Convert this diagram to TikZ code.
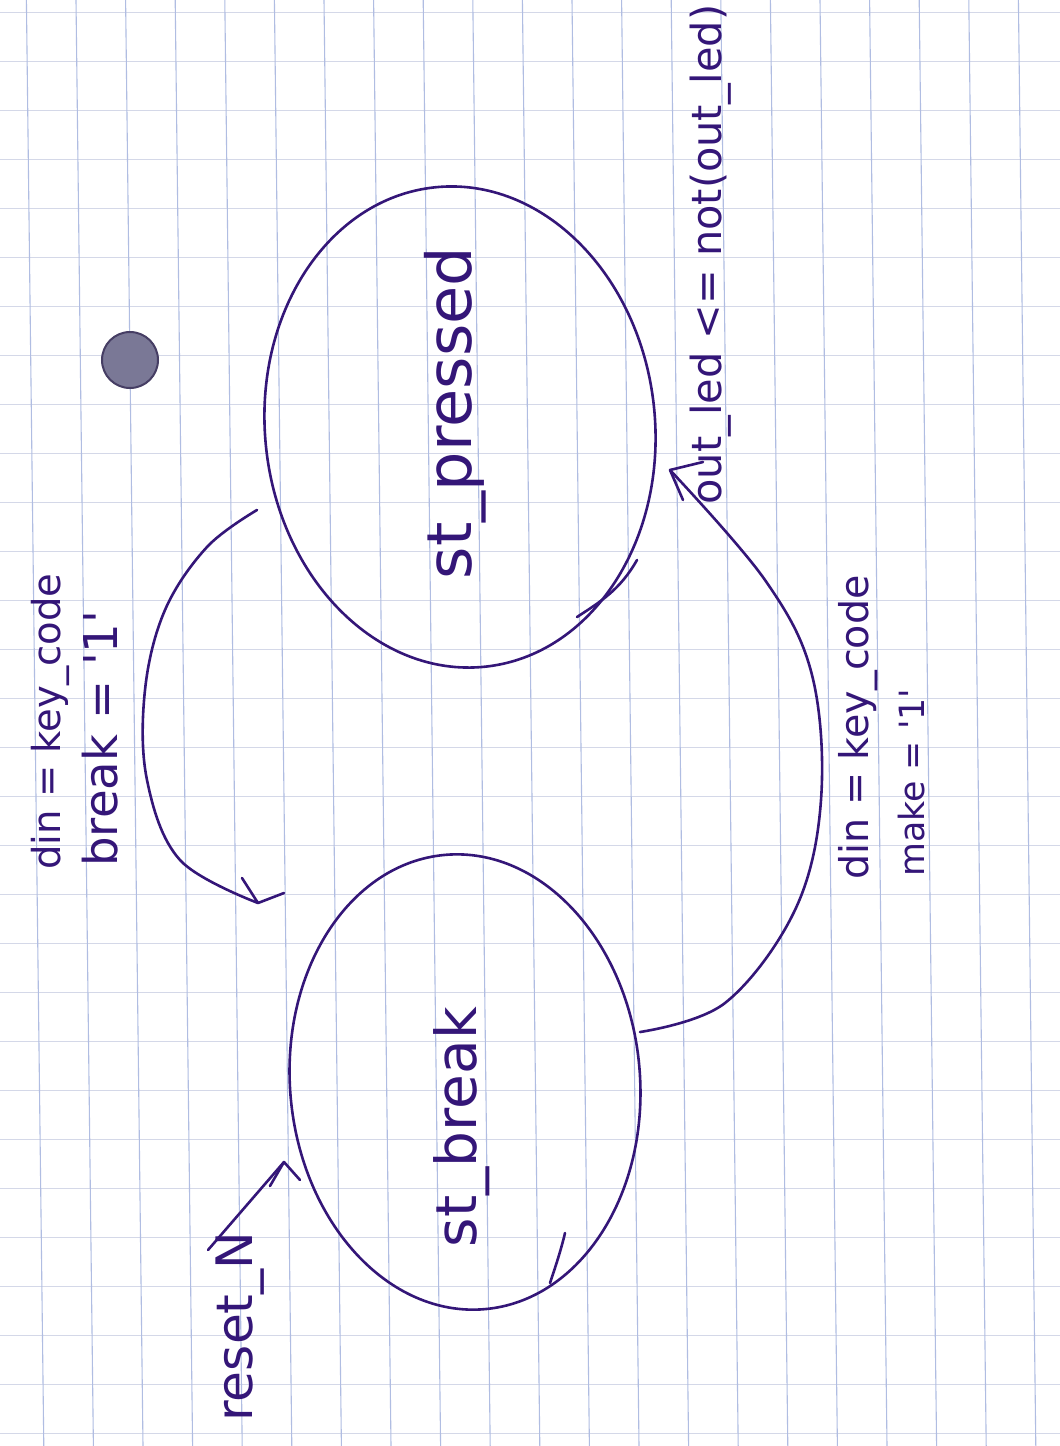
\documentclass[tikz,border=0pt]{standalone}
\usepackage{fontspec}
\usepackage{graphicx}
\usetikzlibrary{shapes.geometric,calc}
\newfontfamily\handfont{DejaVu Sans}
\newcommand{\hwtext}[2]{\resizebox{#1}{!}{\handfont #2}}
\definecolor{ink}{RGB}{52,22,120}
\definecolor{gridv}{RGB}{176,189,226}
\definecolor{gridh}{RGB}{212,216,232}
\definecolor{holefill}{RGB}{122,120,150}
\definecolor{holerim}{RGB}{70,62,100}

\begin{document}
\begin{tikzpicture}[x=0.5pt,y=-0.5pt,
  state/.style={draw=ink, line width=1.3pt, ellipse, inner sep=0pt},
  pen/.style={draw=ink, line width=1.3pt, line cap=round, line join=round},
  lbl/.style={text=ink, rotate=90, inner sep=0pt}]
\useasboundingbox (0,0) rectangle (1060,1446);
\fill[white] (0,0) rectangle (1060,1446);

% squared paper
\foreach \k in {0,...,29}
  \draw[gridh, line width=0.5pt] (0,{12+49*\k}) -- (1060,{12+49*\k});
\foreach \k in {-3,...,17}
  \draw[gridv, line width=0.55pt] ({181+49.6*\k-5.8},0) -- ({181+49.6*\k+11.6},1446);

% punched hole
\fill[holefill] (130,360) circle[radius=14pt];
\draw[holerim, line width=1pt] (130,360) circle[radius=14pt];

% states
\node[state, minimum width=195pt, minimum height=241pt, rotate=6] (press) at (460,427) {};
\node[state, minimum width=175pt, minimum height=228pt, rotate=5] (brk) at (465,1082) {};
\node[lbl] (lpress) at (455,413) {\hwtext{166pt}{st\_pressed}};
\node[lbl] (lbrk) at (462,1127) {\hwtext{120pt}{st\_break}};

% pen overlaps where each state outline was closed
\draw[pen] (577,617) .. controls (600,602) and (620,590) .. (637,560);
\draw[pen] (550,1283) .. controls (556,1265) and (561,1250) .. (565,1233);

% transition st_pressed -> st_break
\coordinate (b1s) at (257,510);
\coordinate (b1e) at (258,903);
\draw[pen] plot[smooth, tension=0.6] coordinates {(b1s) (207,547) (165,610) (145,690) (147,780) (180,860) (b1e)};
\draw[pen] (242,878) -- (b1e) -- (284,893);
\node[lbl, anchor=west] (c1a) at (50,870) {\hwtext{148pt}{din = key\_code}};
\node[lbl, anchor=west] (c1b) at (100,867) {\hwtext{128pt}{break = '1'}};

% transition st_break -> st_pressed
\coordinate (m1s) at (640,1032);
\coordinate (m1e) at (670,470);
\draw[pen] plot[smooth, tension=0.6] coordinates {(m1s) (725,1003) (795,910) (821,800) (812,675) (765,580) (m1e)};
\draw[pen] (703,462) -- (m1e) -- (683,500);
\node[lbl, anchor=west] (c2a) at (858,880) {\hwtext{152pt}{din = key\_code}};
\node[lbl, anchor=west] (c2b) at (912,877) {\hwtext{94pt}{make = '1'}};
\node[lbl, anchor=west] (act) at (711,505) {\hwtext{250pt}{out\_led <= not(out\_led)}};

% reset
\coordinate (r1s) at (208,1250);
\coordinate (r1e) at (284,1162);
\draw[pen] (r1s) -- (r1e);
\draw[pen] (270,1186) -- (r1e) -- (300,1180);
\node[lbl, anchor=west] (rst) at (240,1422) {\hwtext{95pt}{reset\_N}};
\end{tikzpicture}
\end{document}
